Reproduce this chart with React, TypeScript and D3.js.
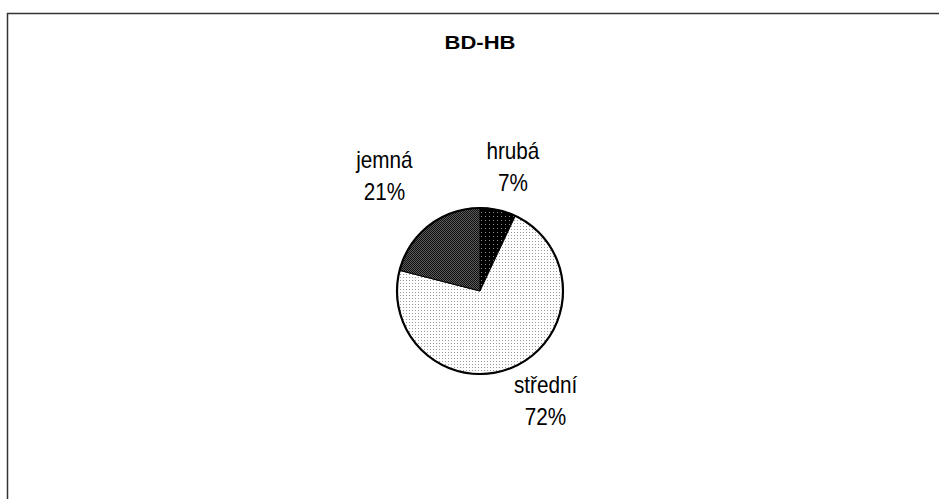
import { useEffect, useMemo } from "react"
import { arc as d3Arc, pie as d3Pie, type PieArcDatum } from "d3"

const title = "BD-HB"
const categories = ["hrubá", "střední", "jemná"]
const shares = [7, 72, 21]

interface Slice {
  name: string
  value: number
}

const fillIds: Record<string, string> = {
  hrubá: "pat-coarse",
  střední: "pat-medium",
  jemná: "pat-fine",
}

// nudges so labels sit where Excel put them (radius from centre, degrees)
const labelLayout: Record<string, { r: number; da: number }> = {
  hrubá: { r: 130.5, da: 2 },
  střední: { r: 126.5, da: -6 },
  jemná: { r: 151, da: -1.5 },
}

export default function App() {
  const width = 939
  const height = 499
  const cx = 480
  const cy = 291
  const radius = 83
  const fontFamily = "Arial, 'Liberation Sans', Helvetica, sans-serif"

  useEffect(() => {
    document.body.style.margin = "0"
    document.body.style.overflow = "hidden"
  }, [])

  const slices: Slice[] = categories.map((name, i) => ({ name, value: shares[i] }))

  const arcs = useMemo(
    () =>
      d3Pie<Slice>()
        .sort(null)
        .value((d) => d.value)(slices),
    [],
  )

  const arcGen = d3Arc<PieArcDatum<Slice>>().innerRadius(0).outerRadius(radius)

  return (
    <svg
      width={width}
      height={height}
      viewBox={`0 0 ${width} ${height}`}
      style={{ position: "absolute", left: 0, top: 0, background: "#fff", display: "block" }}
      fontFamily={fontFamily}
    >
      <defs>
        <pattern id="pat-medium" width="3" height="3" patternUnits="userSpaceOnUse">
          <rect width="3" height="3" fill="#fff" />
          <rect x="1" y="1" width="1" height="1" fill="#9a9a9a" />
        </pattern>
        <pattern id="pat-coarse" width="4" height="4" patternUnits="userSpaceOnUse">
          <rect width="4" height="4" fill="#000" />
          <rect x="1" y="1" width="1" height="1" fill="#8a8a8a" />
        </pattern>
        <pattern id="pat-fine" width="2" height="2" patternUnits="userSpaceOnUse">
          <rect width="2" height="2" fill="#111" />
          <rect x="0" y="0" width="1" height="1" fill="#5a5a5a" />
          <rect x="1" y="1" width="1" height="1" fill="#5a5a5a" />
        </pattern>
      </defs>

      {/* chart area frame: only left and top edges fall inside the picture */}
      <path d={`M7.5,${height}V13.5H${width + 5}`} fill="none" stroke="#333" strokeWidth={1.5} />

      <g transform={`translate(${cx},48.5) scale(1.16,1)`}>
        <text textAnchor="middle" fontSize={19} fontWeight="bold" fill="#000">
          {title}
        </text>
      </g>

      <g transform={`translate(${cx},${cy})`}>
        {arcs.map((a) => (
          <path key={a.data.name} d={arcGen(a) ?? ""} fill={`url(#${fillIds[a.data.name]})`} stroke="#000" strokeWidth={1} />
        ))}
        <circle r={radius} fill="none" stroke="#000" strokeWidth={2.2} />

        {arcs.map((a) => {
          const lay = labelLayout[a.data.name]
          const mid = (a.startAngle + a.endAngle) / 2 + (lay.da * Math.PI) / 180
          const x = lay.r * Math.sin(mid)
          const y = -lay.r * Math.cos(mid)
          return (
            <g key={a.data.name} transform={`translate(${x},${y}) scale(0.9,1)`}>
              <text textAnchor="middle" fontSize={23} fill="#000">
                <tspan x={0} dy="-0.25em">{a.data.name}</tspan>
                <tspan x={0} dy={32}>{`${a.data.value}%`}</tspan>
              </text>
            </g>
          )
        })}
      </g>
    </svg>
  )
}
